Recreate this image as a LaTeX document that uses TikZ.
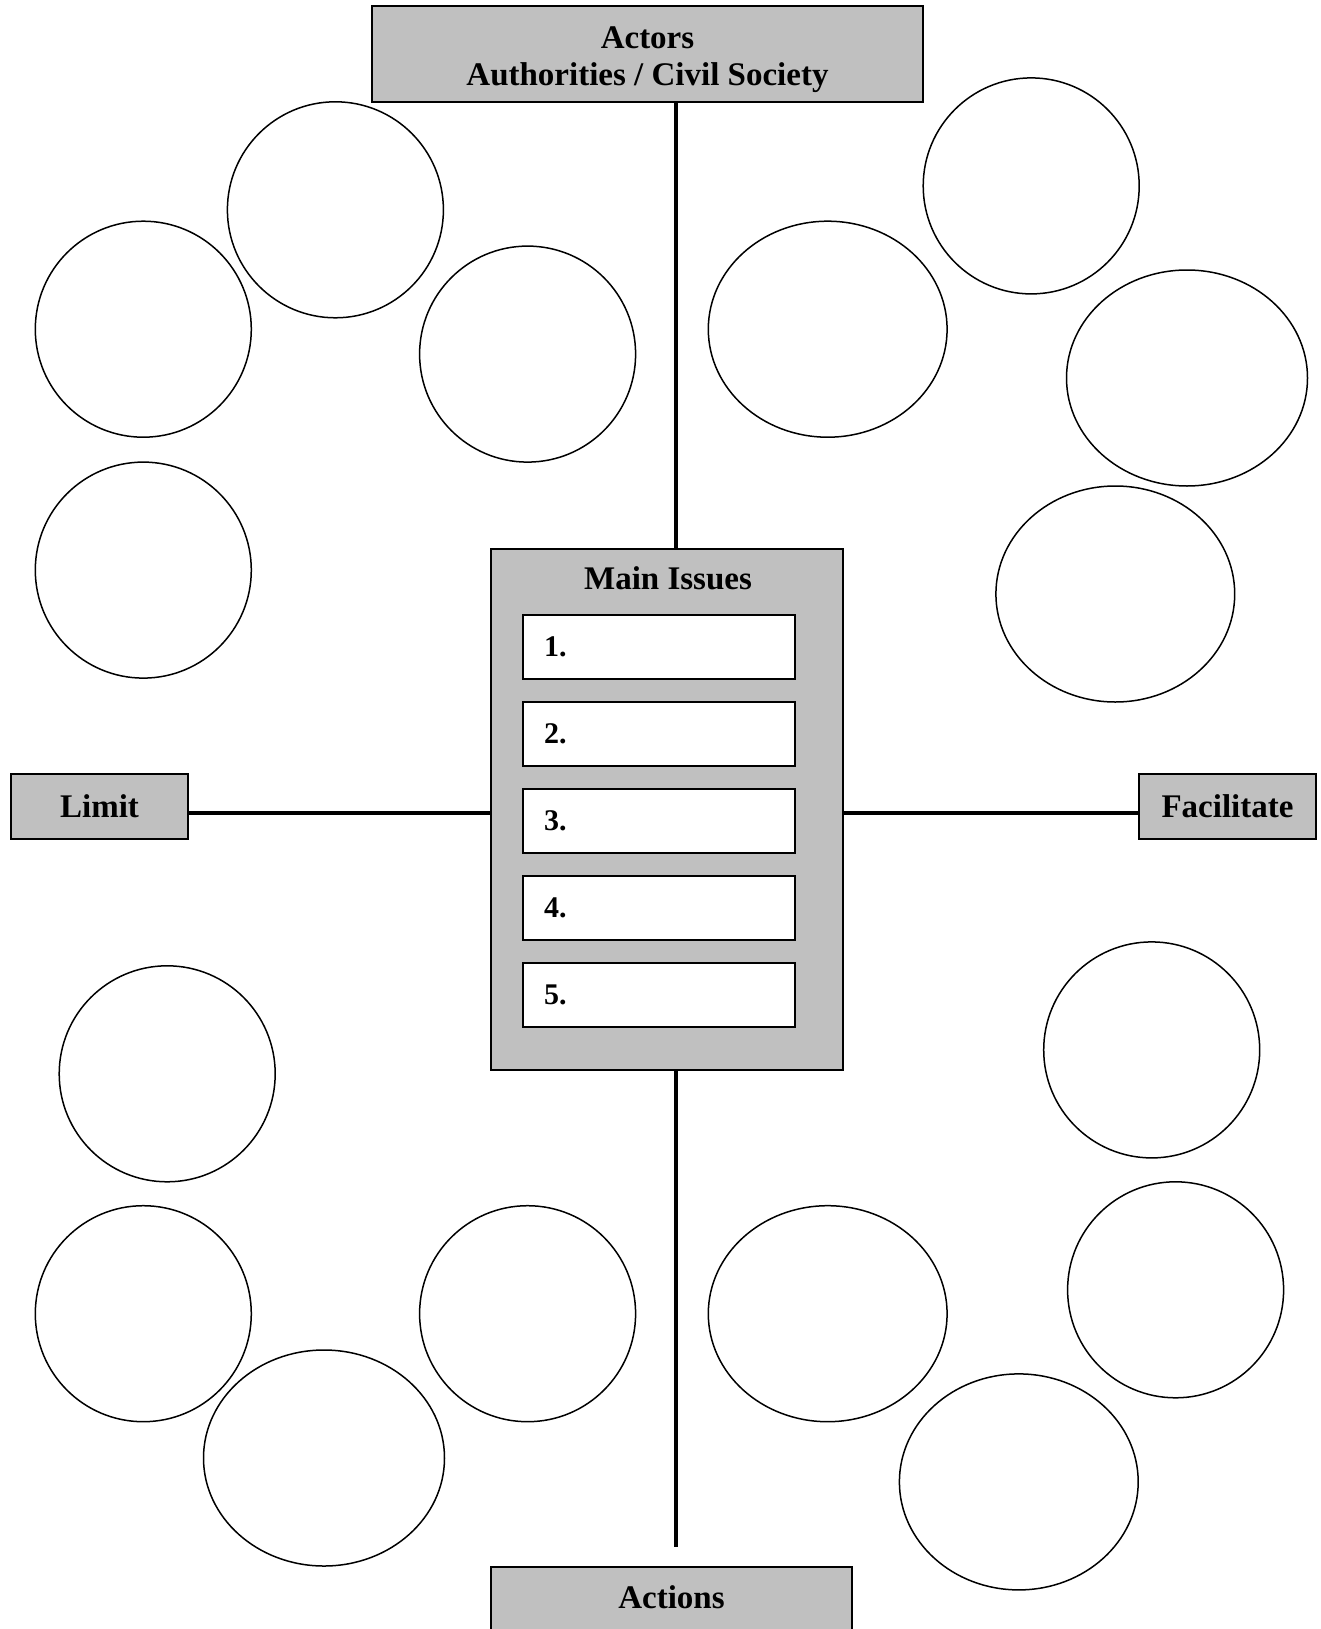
\documentclass[tikz,border=0pt]{standalone}
\usepackage{fontspec}
\setmainfont{Liberation Serif}
\definecolor{boxgray}{HTML}{C0C0C0}
\begin{document}
\begin{tikzpicture}[x=1pt,y=-1pt,
  gbox/.style={draw=black,line width=2pt,fill=boxgray,inner sep=0pt,align=center,
    font=\fontsize{33}{37}\selectfont\bfseries},
  wbox/.style={draw=black,line width=2pt,fill=white,inner sep=0pt,
    minimum width=272pt,minimum height=64pt},
  numtxt/.style={font=\fontsize{30}{34}\selectfont\bfseries,anchor=west,inner sep=0pt},
  conn/.style={line width=4.5pt},
  blob/.style={draw=black,line width=1.5pt}]
\useasboundingbox (0,0) rectangle (1321,1629);
\clip (0,0) rectangle (1321,1629);
% circles
\draw[blob] (335.4,209.8) ellipse (108 and 108);
\draw[blob] (143.3,329.2) ellipse (108 and 108);
\draw[blob] (527.6,354.1) ellipse (108 and 108);
\draw[blob] (143.3,570.1) ellipse (108 and 108);
\draw[blob] (1031.2,185.9) ellipse (108 and 108);
\draw[blob] (827.7,329.2) ellipse (119.4 and 108);
\draw[blob] (1187,378) ellipse (120.5 and 108);
\draw[blob] (1115.3,594) ellipse (119.4 and 108);
\draw[blob] (167.2,1073.8) ellipse (108 and 108);
\draw[blob] (143.3,1313.7) ellipse (108 and 108);
\draw[blob] (527.6,1313.7) ellipse (108 and 108);
\draw[blob] (324,1458) ellipse (120.5 and 108);
\draw[blob] (1151.7,1049.9) ellipse (108 and 108);
\draw[blob] (827.7,1313.7) ellipse (119.4 and 108);
\draw[blob] (1175.6,1289.8) ellipse (108 and 108);
\draw[blob] (1018.8,1481.9) ellipse (119.4 and 108);
% boxes
\node[gbox,minimum width=551pt,minimum height=96pt] (actors) at (647.5,54) {\rule{0pt}{34pt}Actors\\Authorities / Civil Society};
\node[gbox,minimum width=352pt,minimum height=521pt] (main) at (667,809.5) {};
\node[font=\fontsize{33}{37}\selectfont\bfseries,inner sep=0pt] (mtitle) at (668,578) {Main Issues};
\foreach \i/\y in {1/647,2/734,3/821,4/908,5/995}{
  \node[wbox] (issue\i) at (659,\y) {};
  \node[numtxt] (num\i) at (544,\y) {\i.};
}
\node[gbox,minimum width=177pt,minimum height=65pt] (limit) at (99.5,806.5) {Limit};
\node[gbox,minimum width=177pt,minimum height=65pt] (facil) at (1227.5,806.5) {Facilitate};
\node[gbox,minimum width=361pt,minimum height=80pt,text height=23pt,text depth=21pt,anchor=north] (actions) at (671.5,1566) {Actions};
% connectors
\coordinate (vx) at (676,0);
\coordinate (hy) at (0,813);
\coordinate (vend) at (676,1547);
\draw[conn] (actors.south -| vx) -- (main.north -| vx);
\draw[conn] (main.south -| vx) -- (vend);
\draw[conn] (limit.east |- hy) -- (main.west |- hy);
\draw[conn] (main.east |- hy) -- (facil.west |- hy);
\end{tikzpicture}
\end{document}
